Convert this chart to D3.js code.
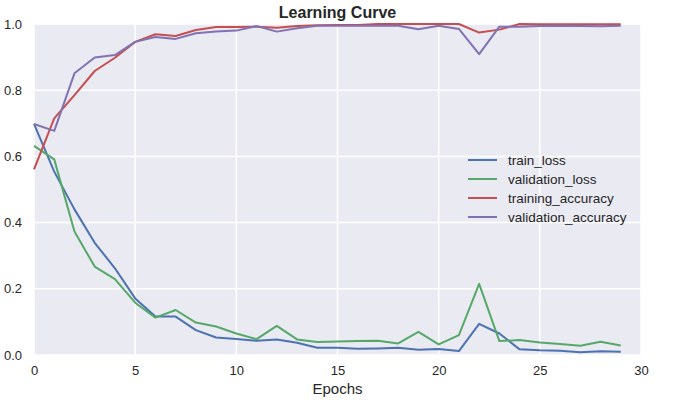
<!DOCTYPE html>
<html>
<head>
<meta charset="utf-8">
<script src="https://cdn.jsdelivr.net/npm/d3@7"></script>
<style>
  body { margin: 0; background: #fff; }
  svg text { font-family: "Liberation Sans", Arial, sans-serif; fill: #262626; }
</style>
</head>
<body>
<div id="chart"></div>
<script>
// data
const epochs = [0,1,2,3,4,5,6,7,8,9,10,11,12,13,14,15,16,17,18,19,20,21,22,23,24,25,26,27,28,29];
const trainLoss = [0.698,0.554,0.440,0.339,0.262,0.171,0.116,0.116,0.075,0.053,0.048,0.043,0.047,0.037,0.022,0.022,0.019,0.020,0.022,0.016,0.018,0.012,0.094,0.065,0.017,0.014,0.013,0.008,0.011,0.010];
const validationLoss = [0.632,0.591,0.373,0.267,0.229,0.158,0.113,0.136,0.098,0.086,0.065,0.048,0.088,0.047,0.039,0.041,0.042,0.043,0.035,0.070,0.032,0.060,0.215,0.042,0.045,0.038,0.033,0.028,0.040,0.029];
const trainingAccuracy = [0.561,0.715,0.785,0.858,0.898,0.946,0.969,0.964,0.982,0.991,0.991,0.992,0.989,0.994,0.996,0.997,0.997,1.000,1.000,1.000,1.000,1.000,0.974,0.983,1.000,0.999,0.999,0.999,0.999,0.999];
const validationAccuracy = [0.698,0.677,0.851,0.899,0.906,0.946,0.961,0.955,0.972,0.977,0.980,0.994,0.977,0.987,0.995,0.995,0.995,0.995,0.995,0.984,0.995,0.985,0.909,0.992,0.992,0.994,0.995,0.994,0.993,0.995];
const seriesNames = ["train_loss","validation_loss","training_accuracy","validation_accuracy"];
const seriesColors = ["#4C72B0","#55A868","#C44E52","#8172B2"];
const xTicks = [0,5,10,15,20,25,30];
const yTicks = [0.0,0.2,0.4,0.6,0.8,1.0];

const W = 681, H = 406;
const margin = { top: 24, right: 40, bottom: 51, left: 34 },
  width = W - margin.left - margin.right,
  height = H - margin.top - margin.bottom;

const svg = d3.select("#chart").append("svg")
  .attr("width", W).attr("height", H);

const g = svg.append("g")
  .attr("transform", "translate(" + margin.left + "," + margin.top + ")");

const x = d3.scaleLinear().domain([0, 30]).range([0, width]);
const y = d3.scaleLinear().domain([0, 1]).range([height, 0]);

// background + grid
g.append("rect").attr("width", width).attr("height", height).attr("fill", "#EAEAF2");

g.append("g").selectAll("line").data(xTicks).enter().append("line")
  .attr("x1", d => x(d)).attr("x2", d => x(d))
  .attr("y1", 0).attr("y2", height)
  .attr("stroke", "#fff").attr("stroke-width", 1.5);

g.append("g").selectAll("line").data(yTicks).enter().append("line")
  .attr("x1", 0).attr("x2", width)
  .attr("y1", d => y(d)).attr("y2", d => y(d))
  .attr("stroke", "#fff").attr("stroke-width", 1.5);

// axes, no spines, no tick marks
const xAxis = g.append("g")
  .attr("transform", "translate(0," + height + ")")
  .call(d3.axisBottom(x).tickValues(xTicks).tickSize(0).tickPadding(11).tickFormat(d3.format("d")));
const yAxis = g.append("g")
  .call(d3.axisLeft(y).tickValues(yTicks).tickSize(0).tickPadding(12).tickFormat(d3.format(".1f")));
[xAxis, yAxis].forEach(a => {
  a.select(".domain").remove();
  a.selectAll("text").attr("font-size", 13).attr("fill", "#262626")
    .style("font-family", "'Liberation Sans', Arial, sans-serif");
});

// lines
const allSeries = [trainLoss, validationLoss, trainingAccuracy, validationAccuracy];
const line = d3.line().x((d, i) => x(epochs[i])).y(d => y(d));

allSeries.forEach((s, k) => {
  g.append("path")
    .datum(s)
    .attr("d", line)
    .attr("fill", "none")
    .attr("stroke", seriesColors[k])
    .attr("stroke-width", 2)
    .attr("stroke-linejoin", "round");
});

// legend
const leg = g.append("g").attr("transform", "translate(" + (468 - margin.left) + "," + (160 - margin.top) + ")");
seriesNames.forEach((n, k) => {
  leg.append("line")
    .attr("x1", 0).attr("x2", 29)
    .attr("y1", k * 19).attr("y2", k * 19)
    .attr("stroke", seriesColors[k]).attr("stroke-width", 2);
  leg.append("text")
    .attr("x", 40).attr("y", k * 19).attr("dy", "0.35em")
    .attr("font-size", 13.5)
    .text(n);
});

// title + x label
svg.append("text")
  .attr("x", margin.left + width / 2).attr("y", 18)
  .attr("text-anchor", "middle")
  .attr("font-size", 16).attr("font-weight", "bold")
  .text("Learning Curve");

svg.append("text")
  .attr("x", margin.left + width / 2).attr("y", 394)
  .attr("text-anchor", "middle")
  .attr("font-size", 15)
  .text("Epochs");
</script>
</body>
</html>
